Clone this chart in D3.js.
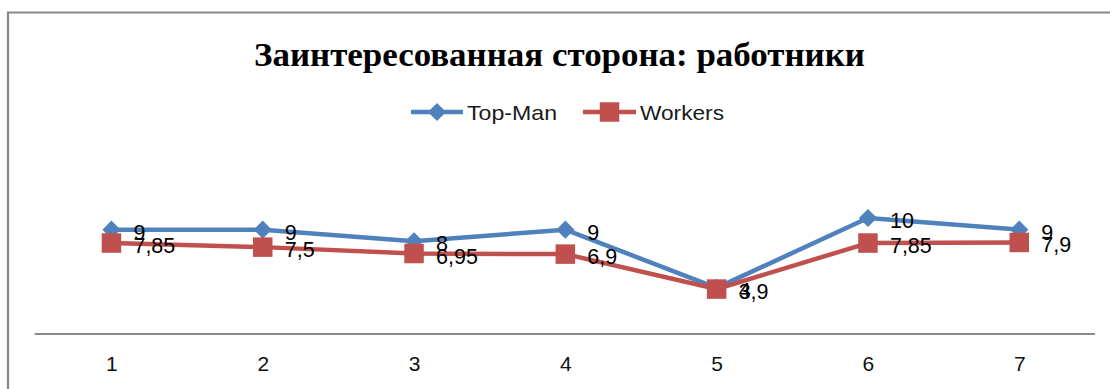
<!DOCTYPE html>
<html>
<head>
<meta charset="utf-8">
<script src="https://cdn.jsdelivr.net/npm/d3@7"></script>
<style>
  html, body { margin: 0; padding: 0; background: #fff; }
  svg { display: block; }
</style>
</head>
<body>
<div id="chart"></div>
<script>
// Category labels along the horizontal axis
const categories = ["1", "2", "3", "4", "5", "6", "7"];
// Series values
const topMan = [9, 9, 8, 9, 4, 10, 9];
const workers = [7.85, 7.5, 6.95, 6.9, 3.9, 7.85, 7.9];
const seriesNames = ["Top-Man", "Workers"];
const titleText = "Заинтересованная сторона: работники";

const W = 1110, H = 389;
const colors = ["#4F81BD", "#C0504D"];

const svg = d3.select("#chart").append("svg")
  .attr("width", W).attr("height", H);

// Outer chart frame (top and left edges visible)
svg.append("path")
  .attr("d", `M8,${H} L8,12.5 L${W},12.5`)
  .attr("fill", "none")
  .attr("stroke", "#878787")
  .attr("stroke-width", 2.2);

const x = d3.scalePoint().domain(categories).range([35.8, 1094.9]).padding(0.5);
const y = d3.scaleLinear().domain([0, 20]).range([334.5, 101.5]);

// Title
svg.append("text")
  .attr("x", 559.5).attr("y", 66)
  .attr("text-anchor", "middle")
  .attr("font-family", "'Liberation Serif', 'Times New Roman', serif")
  .attr("font-weight", "bold")
  .attr("font-size", 34)
  .attr("textLength", 611)
  .attr("lengthAdjust", "spacingAndGlyphs")
  .attr("fill", "#000")
  .text(titleText);

// Category axis
const axis = svg.append("g")
  .attr("transform", `translate(0,${y(0) - 1})`)
  .call(d3.axisBottom(x).tickSize(0).tickSizeOuter(0).tickPadding(23));
axis.select(".domain")
  .attr("d", `M${x.range()[0] - 1},0.5H${x.range()[1]}`)
  .attr("stroke", "#898989").attr("stroke-width", 2);
axis.selectAll("text")
  .attr("font-family", "'Liberation Sans', Arial, sans-serif")
  .attr("font-size", 21)
  .attr("fill", "#111");

const series = [topMan, workers];

const markerPath = [
  d3.symbol().type(d3.symbolSquare).size(165)(),
  d3.symbol().type(d3.symbolSquare).size(380)()
];
const markerRotate = [45, 0];

const line = d3.line().x((d, i) => x(categories[i])).y(d => y(d));

series.forEach((vals, s) => {
  const g = svg.append("g");
  g.append("path")
    .datum(vals)
    .attr("d", line)
    .attr("fill", "none")
    .attr("stroke", colors[s])
    .attr("stroke-width", 4.5)
    .attr("stroke-linejoin", "round");
  g.selectAll("path.m")
    .data(vals)
    .join("path")
    .attr("class", "m")
    .attr("d", markerPath[s])
    .attr("transform", (d, i) => `translate(${x(categories[i])},${y(d)}) rotate(${markerRotate[s]})`)
    .attr("fill", colors[s]);
});

// Value labels, placed to the right of each point
const fmt = v => String(v).replace(".", ",");
series.forEach((vals, s) => {
  svg.append("g").selectAll("text")
    .data(vals)
    .join("text")
    .attr("x", (d, i) => x(categories[i]) + 22)
    .attr("y", d => y(d) + 10)
    .attr("font-family", "'Liberation Sans', Arial, sans-serif")
    .attr("font-size", 21.5)
    .attr("fill", "#000")
    .text(fmt);
});

// Legend
const legend = svg.append("g");
const legendItems = [
  { lx1: 411, lx2: 463, tx: 467, tw: 90 },
  { lx1: 583, lx2: 636, tx: 640, tw: 84 }
];
const ly = 112;
seriesNames.forEach((name, s) => {
  const it = legendItems[s];
  legend.append("line")
    .attr("x1", it.lx1).attr("x2", it.lx2)
    .attr("y1", ly).attr("y2", ly)
    .attr("stroke", colors[s]).attr("stroke-width", 4.5);
  legend.append("path")
    .attr("d", markerPath[s])
    .attr("transform", `translate(${(it.lx1 + it.lx2) / 2},${ly}) rotate(${markerRotate[s]})`)
    .attr("fill", colors[s]);
  legend.append("text")
    .attr("x", it.tx).attr("y", ly + 7.5)
    .attr("font-family", "'Liberation Sans', Arial, sans-serif")
    .attr("font-size", 21)
    .attr("textLength", it.tw)
    .attr("lengthAdjust", "spacingAndGlyphs")
    .attr("fill", "#1a1a1a")
    .text(name);
});
</script>
</body>
</html>
